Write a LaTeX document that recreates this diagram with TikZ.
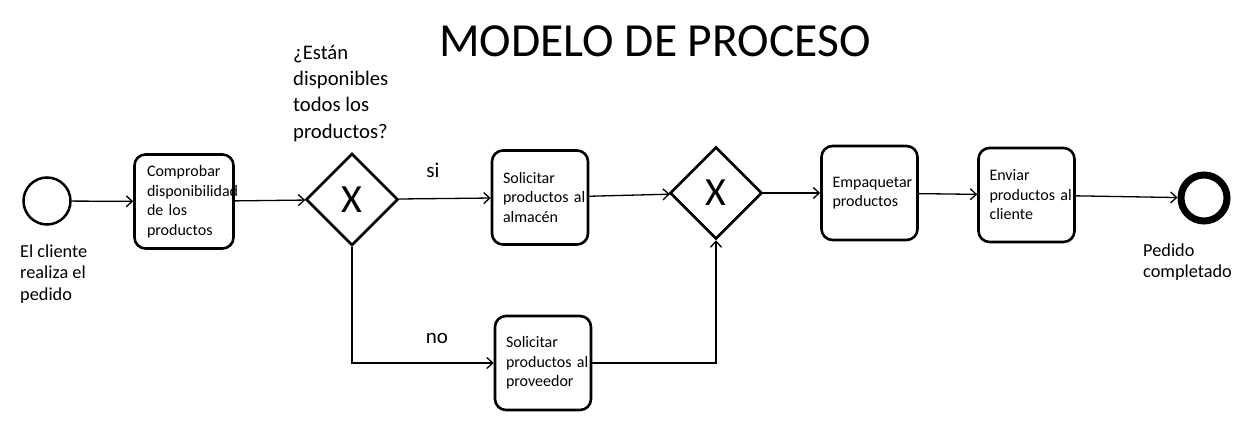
\documentclass[tikz,border=0pt]{standalone}
\usepackage{fontspec}
\setmainfont{Carlito}
\usetikzlibrary{shapes.geometric,arrows.meta}
\begin{document}
\begin{tikzpicture}[x=1pt, y=-1pt,
  tarea/.style={draw, line width=2.6pt, rounded corners=11pt, minimum width=96pt,
    minimum height=94pt, text width=74pt, inner xsep=11pt, align=left,
    font=\fontsize{16}{19.5}\selectfont},
  puerta/.style={draw, diamond, line width=2.6pt, minimum width=92pt,
    minimum height=92pt, inner sep=0pt, font=\fontsize{40}{48}\selectfont},
  flecha/.style={line width=1.3pt, -{Straight Barb[length=6pt,width=11pt]}},
  etiqueta/.style={align=left, inner sep=0pt, anchor=north west,
    font=\fontsize{18.3}{21.5}\selectfont}]
\useasboundingbox (0,0) rectangle (1241,443);

% titulo
\node[anchor=base, inner sep=0pt, font=\fontsize{47.5}{57}\selectfont] (titulo) at (655,57) {MODELO DE PROCESO};

% eventos
\node[draw, circle, line width=2.5pt, minimum size=47pt] (inicio) at (47,201) {};
\node[draw, circle, line width=7pt, minimum size=46pt] (fin) at (1204,198) {};
\node[etiqueta] (txtinicio) at (20,244.5) {El cliente\\realiza el\\pedido};
\node[etiqueta] (txtfin) at (1143,243.5) {Pedido\\completado};

% tareas
\node[tarea, minimum width=99pt] (comprobar) at (184,201.5) {Comprobar\\disponibilidad\\de~los\\productos};
\node[tarea] (almacen) at (540,197.5) {Solicitar\\productos~al\\almacén};
\node[tarea] (proveedor) at (543,363) {Solicitar\\productos~al\\proveedor};
\node[tarea] (empaquetar) at (869.5,193) {Empaquetar\\productos};
\node[tarea] (enviar) at (1026.5,195) {Enviar\\productos~al\\cliente};

% compuertas
\node[puerta] (disp) at (352,199.5) {X};
\node[puerta] (union) at (716,193) {X};
\node[etiqueta, font=\fontsize{20.7}{26.3}\selectfont] (pregunta) at (293,45) {¿Están\\disponibles\\todos los\\productos?};

% flujos
\draw[flecha] (inicio) -- (comprobar);
\draw[flecha] (comprobar) -- (disp);
\draw[flecha] (disp) -- (almacen);
\draw[flecha] (almacen) -- (union);
\draw[flecha] (union) -- (empaquetar);
\draw[flecha] (empaquetar) -- (enviar);
\draw[flecha] (enviar) -- (fin);
\draw[flecha] (disp.south) |- (proveedor.west);
\draw[flecha] (proveedor.east) -| (union.south);

% ramas
\node[font=\fontsize{21}{25}\selectfont] (si) at (433,170) {si};
\node[font=\fontsize{21}{25}\selectfont] (no) at (437,338) {no};
\end{tikzpicture}
\end{document}
